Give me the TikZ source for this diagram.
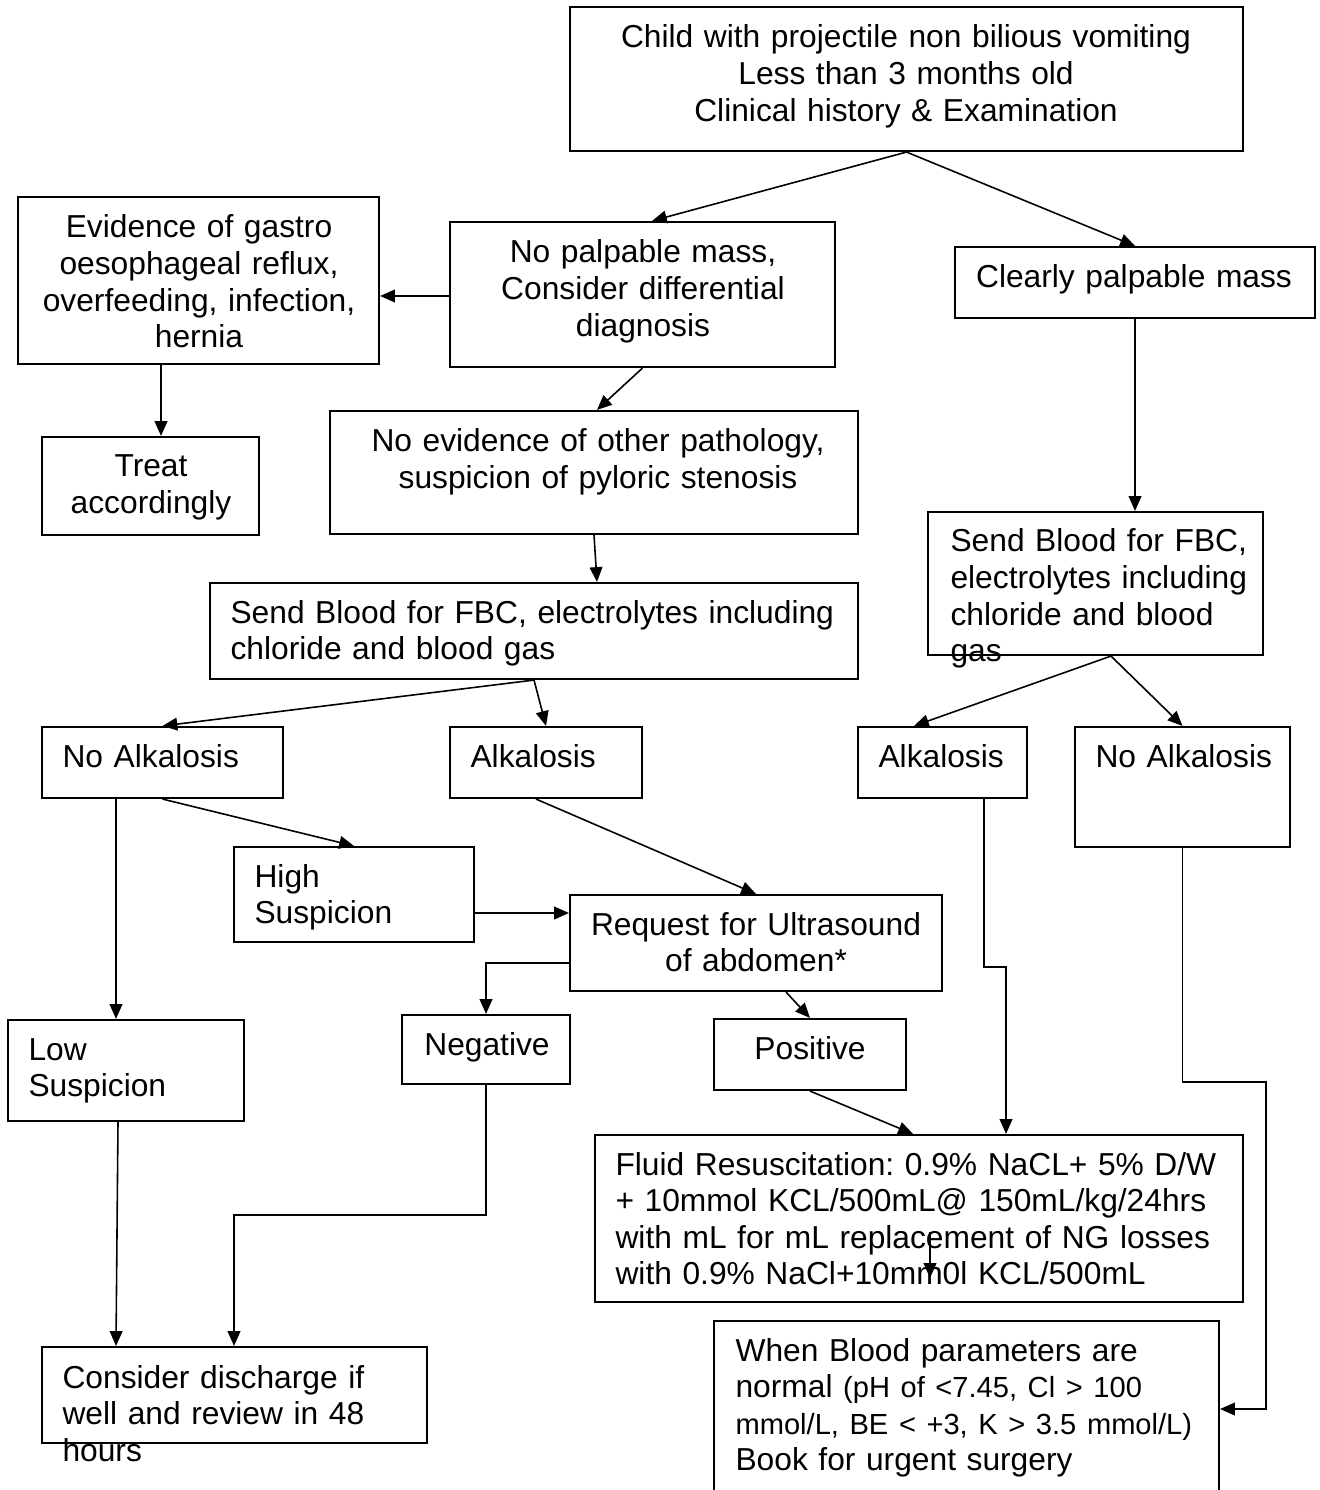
\documentclass[tikz,border=0pt]{standalone}
\usepackage{fontspec}
\setmainfont{Liberation Sans}
\frenchspacing
\usetikzlibrary{arrows.meta,fit}

\tikzset{
  box/.style={draw, line width=0.8pt, inner sep=0pt},
  txt/.style={inner sep=0pt, text width=300pt, font=\fontsize{12}{13.85}\selectfont},
  ctxt/.style={txt, align=center, anchor=base},
  ltxt/.style={txt, align=left, anchor=base west},
  flow/.style={line width=0.6pt, -{Triangle[length=5.6pt, width=4.8pt]}}
}

\begin{document}
\begin{tikzpicture}[x=0.378pt, y=-0.378pt]
\useasboundingbox (0,0) rectangle (1319,1490);

% boxes
\node [box, fit={(570,7) (1243,151)}] (top) {};
\node [box, fit={(18,197) (379,364)}] (gor) {};
\node [box, fit={(450,222) (835,367)}] (nopalp) {};
\node [box, fit={(955,247) (1315,318)}] (clear) {};
\node [box, fit={(42,437) (259,535)}] (treat) {};
\node [box, fit={(330,411) (858,534)}] (noevid) {};
\node [box, fit={(210,583) (858,679)}] (bloodl) {};
\node [box, fit={(928,512) (1263,655)}] (bloodr) {};
\node [box, fit={(42,727) (283,798)}] (noalkl) {};
\node [box, fit={(450,727) (642,798)}] (alkm) {};
\node [box, fit={(858,727) (1027,798)}] (alkr) {};
\node [box, fit={(1075,727) (1290,847)}] (noalkr) {};
\node [box, fit={(234,847) (474,942)}] (high) {};
\node [box, fit={(570,895) (942,991)}] (req) {};
\node [box, fit={(402,1015) (570,1084)}] (neg) {};
\node [box, fit={(714,1019) (906,1090)}] (pos) {};
\node [box, fit={(8,1020) (244,1121)}] (low) {};
\node [box, fit={(595,1135) (1243,1302)}] (fluid) {};
\node [box, fit={(714,1321) (1219,1500)}] (when) {};
\node [box, fit={(42,1347) (427,1443)}] (consider) {};

% texts
\node [ctxt] (top-t) at (906,48) {Child with projectile non bilious vomiting\\Less than 3 months old\\Clinical history \& Examination};
\node [ctxt] (gor-t) at (199,238) {Evidence of gastro\\oesophageal reflux,\\overfeeding, infection,\\hernia};
\node [ctxt] (nopalp-t) at (643,263) {No palpable mass,\\Consider differential\\diagnosis};
\node [ctxt] (clear-t) at (1134,288) {Clearly palpable mass};
\node [ctxt] (treat-t) at (151,477) {Treat\\accordingly};
\node [ctxt] (noevid-t) at (598,452) {No evidence of other pathology,\\suspicion of pyloric stenosis};
\node [ltxt] (bloodl-t) at (230,623) {Send Blood for FBC, electrolytes including\\chloride and blood gas};
\node [ltxt] (bloodr-t) at (950,552) {Send Blood for FBC,\\electrolytes including\\chloride and blood\\gas};
\node [ltxt] (noalkl-t) at (62,767) {No Alkalosis};
\node [ltxt] (alkm-t) at (470,767) {Alkalosis};
\node [ltxt] (alkr-t) at (878,767) {Alkalosis};
\node [ltxt] (noalkr-t) at (1095,767) {No Alkalosis};
\node [ltxt] (high-t) at (254,887) {High\\Suspicion};
\node [ctxt] (req-t) at (756,935) {Request for Ultrasound\\of abdomen*};
\node [ctxt] (neg-t) at (487,1055) {Negative};
\node [ctxt] (pos-t) at (810,1059) {Positive};
\node [ltxt] (low-t) at (28,1060) {Low\\Suspicion};
\node [ltxt] (fluid-t) at (615,1175) {Fluid Resuscitation: 0.9\% NaCL+ 5\% D/W\\+ 10mmol KCL/500mL@ 150mL/kg/24hrs\\with mL for mL replacement of NG losses\\with 0.9\% NaCl+10mm0l KCL/500mL};
\node [ltxt] (when-t) at (735,1361) {When Blood parameters are\\normal {\fontsize{11}{13.85}\selectfont (pH of <7.45, Cl > 100\\mmol/L, BE < +3, K > 3.5 mmol/L)}\\Book for urgent surgery};
\node [ltxt] (consider-t) at (62,1388) {Consider discharge if\\well and review in 48\\hours};

% arrows
\draw [flow] (top.south) -- (nopalp.north -| 652,0);
\draw [flow] (top.south) -- (clear.north);
\draw [flow] (nopalp.west |- 0,296) -- (gor.east |- 0,296);
\draw [flow] (nopalp.south) -- (noevid.north -| 597,0);
\draw [flow] (gor.south -| 161,0) -- (treat.north -| 161,0);
\draw [flow] (clear.south) -- (clear.south |- bloodr.north);
\draw [flow] (noevid.south) -- (bloodl.north -| 597,0);
\draw [flow] (bloodl.south) -- (noalkl.north);
\draw [flow] (bloodl.south) -- (alkm.north);
\draw [flow] (bloodr.south -| 1111,0) -- (alkr.north -| 914,0);
\draw [flow] (bloodr.south -| 1111,0) -- (noalkr.north);
\draw [flow] (noalkl.south) -- (high.north);
\draw [flow] (noalkl.south -| 116,0) -- (low.north -| 116,0);
\draw [flow] (alkm.south -| 536,0) -- (req.north);
\draw [flow] (high.east |- 0,913) -- (req.west |- 0,913);
\draw [flow] (req.west |- 0,963) -| (neg.north);
\draw [flow] (req.south -| 786,0) -- (pos.north);
\draw [flow] (pos.south) -- (fluid.north -| 913,0);
\draw [flow] (alkr.south -| 984,0) |- (1006,967) -- (fluid.north -| 1006,0);
\draw [flow] (noalkr.south) |- (1266,1082) |- (when.east |- 0,1409);
\draw [flow] (low.south -| 118,0) -- (consider.north -| 116,0);
\draw [flow] (neg.south) |- (234,1215) -- (consider.north -| 234,0);
\coordinate (stray-a) at (930,1232);
\coordinate (stray-b) at (930,1278);
\draw [flow] (stray-a) -- (stray-b);
\end{tikzpicture}
\end{document}
